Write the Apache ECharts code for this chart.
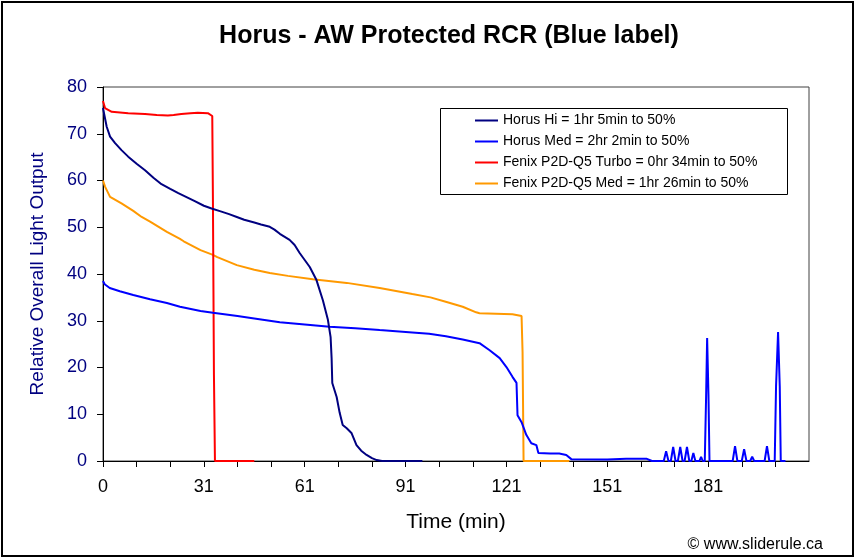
<!DOCTYPE html>
<html>
<head>
<meta charset="utf-8">
<script src="https://cdn.jsdelivr.net/npm/echarts@6/dist/echarts.min.js"></script>
<style>html,body{margin:0;padding:0;background:#fff}#c{width:855px;height:560px}</style>
</head>
<body>
<div id="c"></div>
<script>
const FONT = 'Liberation Sans, Arial, sans-serif';
const titleText = 'Horus - AW Protected RCR (Blue label)';
const seriesNames = [
  'Horus Hi = 1hr 5min to 50%',
  'Horus Med = 2hr 2min to 50%',
  'Fenix P2D-Q5 Turbo = 0hr 34min to 50%',
  'Fenix P2D-Q5 Med = 1hr 26min to 50%'
];
const seriesColors = ['#000080', '#0000FF', '#FF0000', '#FF9900'];
const xTickLabels = ['0', '31', '61', '91', '121', '151', '181'];

const horusHi = [[0,75.5],[0.4,74],[1.1,71.5],[2.1,69.4],[3.6,68],[5.5,66.5],[7.5,65.1],[10,63.6],[12.5,62.2],[15,60.6],[17.4,59.2],[20,58.2],[22.4,57.3],[25,56.4],[27.3,55.6],[30,54.6],[32.3,54],[35,53.4],[37.5,52.8],[39.8,52.2],[42,51.6],[45,51],[47,50.6],[49.6,50.1],[51,49.5],[52.6,48.6],[55.5,47.3],[57,46.2],[58.5,44.5],[60,43],[61.5,41.5],[63.5,38.7],[65.4,34.4],[66.9,30.2],[67.7,26.5],[68,22],[68.2,16.7],[69.5,13.7],[70.4,10.3],[71.3,7.7],[72.5,7],[73.9,6],[75.4,3.4],[76.8,2.2],[78.4,1.3],[80,0.6],[81.4,0.2],[83,0],[95,0]];

const horusMed = [[0,38.5],[0.5,37.8],[2,37],[5,36.3],[9,35.5],[14,34.6],[19,33.8],[22.9,33],[29,32.1],[32.7,31.7],[40,31],[45,30.5],[52.6,29.7],[60,29.2],[67.4,28.7],[75,28.4],[82.3,28],[92,27.5],[97,27.2],[102,26.7],[107,26],[112,25.2],[115,23.7],[118,22],[120,20.1],[121.8,18],[123,16.7],[123.3,9.8],[124.5,8.3],[125.9,5.6],[127.4,3.8],[128.9,3.4],[129.5,1.7],[133,1.6],[135.7,1.6],[137.8,1.3],[139.3,0.4],[150,0.3],[155.6,0.5],[161.6,0.5],[163.3,0],[166.8,0],[167.5,2.1],[168.2,0],[168.9,0],[169.6,3],[170.3,0],[171,0],[171.7,3],[172.4,0],[173,0],[173.7,3],[174.4,0],[175,0],[175.6,1.7],[176.2,0],[177.4,0],[177.9,0.9],[178.4,0],[179,0],[179.4,14],[179.7,26.3],[180.1,14],[180.4,0],[187.3,0],[188,3.2],[188.7,0],[190,0],[190.7,2.5],[191.4,0],[192.5,0],[193.1,0.9],[193.7,0],[196.8,0],[197.5,3.2],[198.2,0],[199.8,0],[200.2,16],[200.8,27.6],[201.3,16],[201.6,0],[203,0]];

const fenixTurbo = [[0,77],[0.6,75.5],[2.6,74.7],[7.5,74.4],[12.5,74.2],[16,74],[19.3,73.9],[21,74],[23.3,74.2],[26,74.4],[28.2,74.5],[31.2,74.4],[32.5,73.8],[32.7,55.4],[33,18.4],[33.3,0],[45,0]];

const fenixMed = [[0,60],[0.6,58.7],[2.1,56.5],[5.5,55.1],[9,53.5],[11.5,52.2],[14,51.2],[19,49],[22.9,47.5],[24,47],[29,45.1],[32.7,44.1],[34,43.6],[39.8,41.9],[45,40.9],[49.6,40.2],[55,39.6],[62.4,38.9],[72.5,38.1],[82.3,37],[92,35.7],[97.4,35],[102.2,34],[107,33],[111,31.8],[112,31.6],[121.8,31.4],[124.5,31],[124.8,23.3],[125.1,0],[138.7,0]];

const allData = [horusHi, horusMed, fenixTurbo, fenixMed];

const chart = echarts.init(document.getElementById('c'), null, {renderer: 'canvas'});
chart.setOption({
  animation: false,
  backgroundColor: '#fff',
  textStyle: {fontFamily: FONT},
  title: {
    text: titleText, left: 449, top: 24, textAlign: 'center', padding: 0,
    textStyle: {fontFamily: FONT, fontSize: 25, fontWeight: 'bold', color: '#000'}
  },
  grid: {left: 103, right: 46, top: 87, bottom: 99, show: true, borderColor: '#404040', borderWidth: 1, backgroundColor: '#fff'},
  legend: {
    orient: 'vertical', left: 475, top: 110, padding: 0, itemGap: 0,
    icon: 'rect', itemWidth: 23, itemHeight: 2, itemTextGap: 1,
    textStyle: {fontFamily: FONT, fontSize: 14, color: '#000', lineHeight: 21},
    data: seriesNames
  },
  xAxis: {
    type: 'value', min: 0, max: 210, interval: 10,
    name: 'Time (min)', nameLocation: 'middle', nameGap: 51,
    nameTextStyle: {fontFamily: FONT, fontSize: 21, color: '#000'},
    axisLine: {show: true, onZero: false, lineStyle: {color: '#000', width: 1}},
    axisTick: {show: true, length: 6, lineStyle: {color: '#000'}},
    axisLabel: {
      margin: 17, fontFamily: FONT, fontSize: 18, color: '#000',
      showMaxLabel: false,
      formatter: function (v) { return v % 30 === 0 ? xTickLabels[v / 30] : ''; }
    },
    splitLine: {show: false}
  },
  yAxis: {
    type: 'value', min: 0, max: 80, interval: 10,
    name: 'Relative Overall Light Output', nameLocation: 'middle', nameGap: 56, nameRotate: 90,
    nameTextStyle: {fontFamily: FONT, fontSize: 19, color: '#000080'},
    axisLine: {show: true, lineStyle: {color: '#000', width: 1}},
    axisTick: {show: true, length: 6, lineStyle: {color: '#000'}},
    axisLabel: {margin: 16, fontFamily: FONT, fontSize: 18, color: '#000080'},
    splitLine: {show: false}
  },
  series: allData.map(function (d, i) {
    return {
      name: seriesNames[i], type: 'line', data: d, showSymbol: false, symbol: 'none',
      lineStyle: {color: seriesColors[i], width: 2}, itemStyle: {color: seriesColors[i]},
      z: 10 - i
    };
  }),
  graphic: [
    {type: 'rect', shape: {x: 2, y: 2, width: 851, height: 554}, style: {fill: 'none', stroke: '#000', lineWidth: 2}, silent: true, z: 100},
    {type: 'rect', shape: {x: 440.5, y: 108.5, width: 347, height: 86}, style: {fill: 'none', stroke: '#000', lineWidth: 1}, silent: true, z: 100},
    {type: 'text', x: 823, y: 545, style: {text: '\u00A9 www.sliderule.ca', font: '16px ' + FONT, fill: '#000', textAlign: 'right', textVerticalAlign: 'middle'}, z: 100}
  ]
});
</script>
</body>
</html>
